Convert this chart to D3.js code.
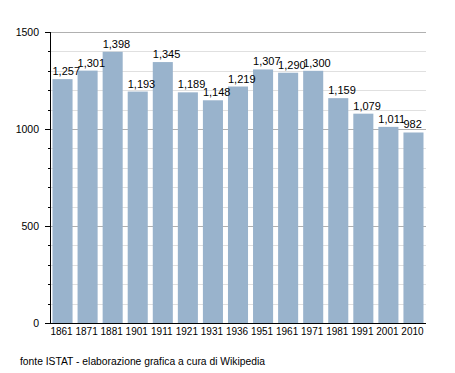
<!DOCTYPE html>
<html>
<head>
<meta charset="utf-8">
<script src="https://cdn.jsdelivr.net/npm/d3@7"></script>
<style>
  body { margin: 0; background: #fff; }
  text { font-family: "Liberation Sans", Arial, sans-serif; fill: #000; }
</style>
</head>
<body>
<script>
var years = ['1861', '1871', '1881', '1901', '1911', '1921', '1931', '1936', '1951', '1961', '1971', '1981', '1991', '2001', '2010'];
var population = [1257, 1301, 1398, 1193, 1345, 1189, 1148, 1219, 1307, 1290, 1300, 1159, 1079, 1011, 982];
var yTicks = [0, 500, 1000, 1500];
var source = 'fonte ISTAT - elaborazione grafica a cura di Wikipedia';

var width = 455, height = 373;
var plotLeft = 50, plotRight = 426, plotTop = 32, plotBottom = 323;

var svg = d3.select('body').append('svg')
    .attr('width', width)
    .attr('height', height);

var x = d3.scaleBand().domain(years).range([plotLeft, plotRight]).paddingInner(0.2).paddingOuter(0.1);
var y = d3.scaleLinear().domain([0, 1500]).range([plotBottom, plotTop]);

// grid lines
svg.append('g').selectAll('line')
    .data(d3.range(100, 1501, 100))
    .enter().append('line')
    .attr('x1', plotLeft).attr('x2', plotRight)
    .attr('y1', function (d) { return Math.round(y(d)) + 0.5; })
    .attr('y2', function (d) { return Math.round(y(d)) + 0.5; })
    .attr('stroke', function (d) { return d % 500 == 0 ? '#b0b0b0' : '#e0e0e0'; })
    .attr('stroke-width', 1);

// bars
svg.append('g').selectAll('rect')
    .data(population)
    .enter().append('rect')
    .attr('x', function (d, i) { return x(years[i]); })
    .attr('y', function (d) { return y(d); })
    .attr('width', x.bandwidth())
    .attr('height', function (d) { return plotBottom - y(d); })
    .attr('fill', '#99b3cc');

// value labels
svg.append('g').selectAll('text')
    .data(population)
    .enter().append('text')
    .attr('x', function (d, i) { return x(years[i]); })
    .attr('y', function (d) { return y(d) - 4; })
    .attr('font-size', '11px')
    .text(function (d) { return d3.format(',')(d); });

// y axis
var yAxis = svg.append('g');
yAxis.selectAll('line.minor')
    .data(d3.range(100, 1500, 100).filter(function (d) { return d % 500 != 0; }))
    .enter().append('line')
    .attr('x1', plotLeft - 2).attr('x2', plotLeft)
    .attr('y1', function (d) { return Math.round(y(d)) + 0.5; })
    .attr('y2', function (d) { return Math.round(y(d)) + 0.5; })
    .attr('stroke', '#000');
yAxis.selectAll('line.major')
    .data(yTicks)
    .enter().append('line')
    .attr('x1', plotLeft - 5).attr('x2', plotLeft)
    .attr('y1', function (d) { return Math.round(y(d)) + 0.5; })
    .attr('y2', function (d) { return Math.round(y(d)) + 0.5; })
    .attr('stroke', '#000');
yAxis.selectAll('text')
    .data(yTicks)
    .enter().append('text')
    .attr('x', plotLeft - 11)
    .attr('y', function (d) { return y(d) + 4; })
    .attr('text-anchor', 'end')
    .attr('font-size', '10.5px')
    .text(function (d) { return d; });
yAxis.append('line')
    .attr('x1', plotLeft + 0.5).attr('x2', plotLeft + 0.5)
    .attr('y1', plotTop).attr('y2', plotBottom + 1)
    .attr('stroke', '#000');

// x axis
svg.append('line')
    .attr('x1', plotLeft).attr('x2', plotRight)
    .attr('y1', plotBottom + 0.5).attr('y2', plotBottom + 0.5)
    .attr('stroke', '#000');
svg.append('g').selectAll('text')
    .data(years)
    .enter().append('text')
    .attr('x', function (d) { return x(d) + x.bandwidth() / 2 - 1; })
    .attr('y', plotBottom + 12)
    .attr('text-anchor', 'middle')
    .attr('font-size', '10px')
    .text(function (d) { return d; });

svg.append('text')
    .attr('x', 20)
    .attr('y', 365)
    .attr('font-size', '10.3px')
    .text(source);
</script>
</body>
</html>
